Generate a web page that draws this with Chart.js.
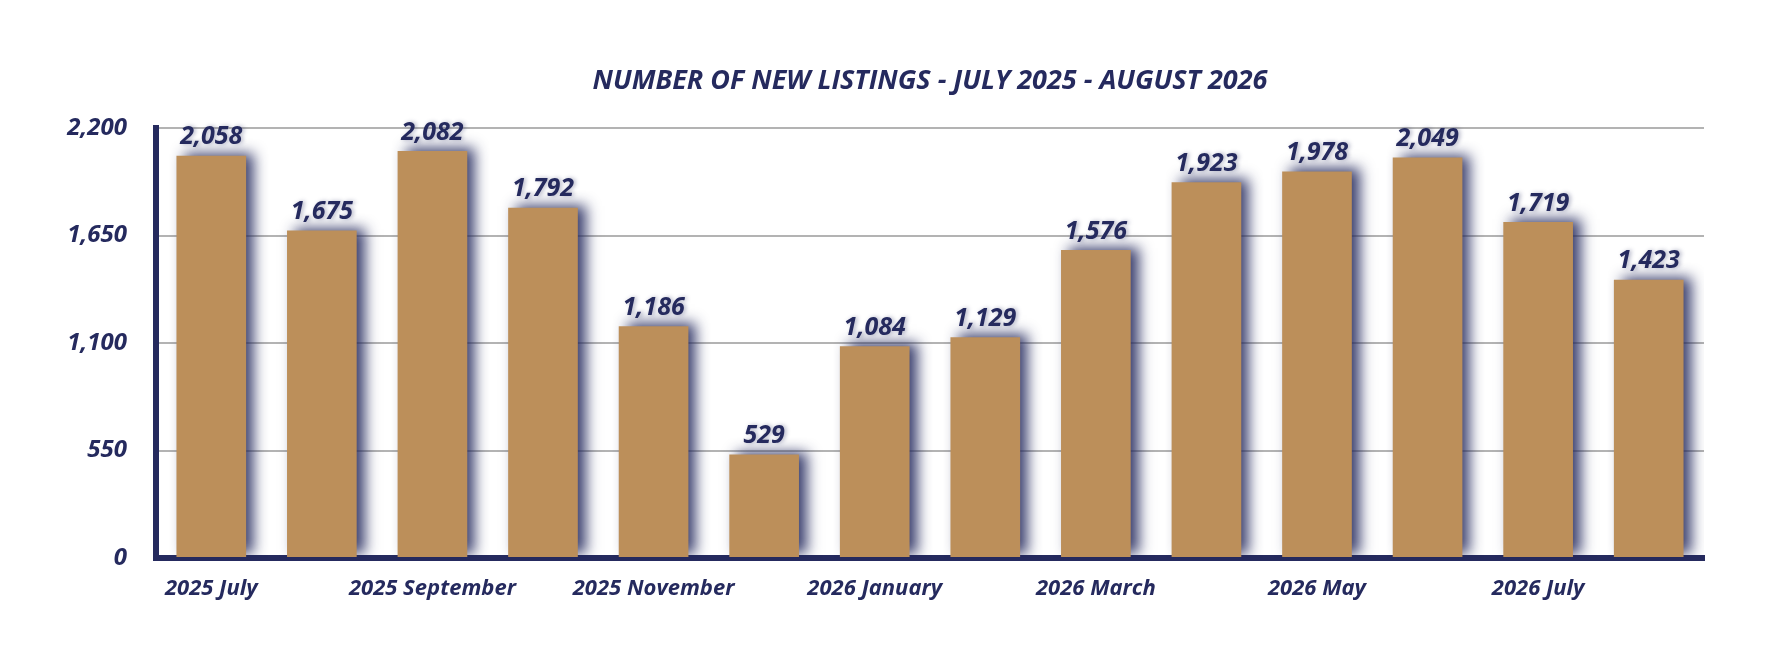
<!DOCTYPE html>
<html>
<head>
<meta charset="utf-8">
<script src="https://cdn.jsdelivr.net/npm/chart.js@4"></script>
<style>
  html, body { margin: 0; padding: 0; background: #fff; }
  #wrap { width: 1772px; height: 656px; }
</style>
</head>
<body>
<div id="wrap"><canvas id="listings-canvas"></canvas></div>
<script>
var months = ['2025 July', '2025 August', '2025 September', '2025 October', '2025 November', '2025 December',
  '2026 January', '2026 February', '2026 March', '2026 April', '2026 May', '2026 June', '2026 July', '2026 August']
var newListings = [2058, 1675, 2082, 1792, 1186, 529, 1084, 1129, 1576, 1923, 1978, 2049, 1719, 1423]
var yTicks = [0, 550, 1100, 1650, 2200]
var chartTitle = 'NUMBER OF NEW LISTINGS - JULY 2025 - AUGUST 2026'

var navy = '#252a5e'
var fontFamily = "'Open Sans', 'DejaVu Sans', sans-serif"

// bar shadow + value labels + title over the plot area
var decorPlugin = {
  id: 'decor',
  beforeDatasetsDraw: function (chart) {
    var ctx = chart.ctx
    ctx.save()
    ctx.shadowColor = 'rgba(37, 42, 94, 0.9)'
    ctx.shadowBlur = 13
    ctx.shadowOffsetX = 8
    ctx.shadowOffsetY = -3
  },
  afterDatasetsDraw: function (chart) {
    var ctx = chart.ctx
    ctx.restore()
    ctx.save()
    ctx.font = 'italic bold 25px ' + fontFamily
    ctx.fillStyle = navy
    ctx.textAlign = 'center'
    ctx.textBaseline = 'bottom'
    ctx.shadowColor = 'rgba(37, 42, 94, 0.35)'
    ctx.shadowBlur = 4
    ctx.shadowOffsetX = 2
    chart.getDatasetMeta(0).data.forEach(function (bar, i) {
      ctx.fillText(newListings[i].toLocaleString('en-US'), bar.x, bar.y - 6)
    })
    ctx.restore()
  },
  afterDraw: function (chart) {
    var ctx = chart.ctx
    var area = chart.chartArea
    ctx.save()
    ctx.font = 'italic bold 27px ' + fontFamily
    ctx.fillStyle = navy
    ctx.textAlign = 'center'
    ctx.textBaseline = 'middle'
    ctx.fillText(chartTitle, (area.left + area.right) / 2, 81)
    ctx.restore()
  }
}

var listingsCanvas = document.getElementById('listings-canvas').getContext('2d')
var listingsChart = new Chart(listingsCanvas, {
  type: 'bar',
  data: {
    labels: months,
    datasets: [
      {
        label: 'New Listings',
        backgroundColor: '#bc8f5a',
        borderWidth: 0,
        data: newListings,
        categoryPercentage: 1,
        barPercentage: 0.63
      }
    ]
  },
  plugins: [decorPlugin],
  options: {
    responsive: true,
    maintainAspectRatio: false,
    animation: false,
    layout: {
      padding: { left: 0, right: 68, top: 128, bottom: 0 }
    },
    plugins: {
      legend: { display: false },
      title: { display: false },
      tooltip: { enabled: false }
    },
    scales: {
      x: {
        grid: { display: false, drawTicks: false },
        border: { display: true, color: navy, width: 6 },
        ticks: {
          color: navy,
          font: { family: fontFamily, size: 22, style: 'italic', weight: 'bold' },
          maxRotation: 0,
          autoSkip: false,
          padding: 18,
          callback: function (value, index) {
            return index % 2 === 0 ? months[index] : ''
          }
        },
        afterFit: function (scale) { scale.height = 656 - 558 }
      },
      y: {
        min: 0,
        max: yTicks[yTicks.length - 1],
        afterBuildTicks: function (scale) {
          scale.ticks = yTicks.map(function (v) { return { value: v } })
        },
        grid: { color: '#b3b3b3', lineWidth: 2, drawTicks: false },
        border: { display: true, color: navy, width: 6 },
        ticks: {
          color: navy,
          font: { family: fontFamily, size: 24, style: 'italic', weight: 'bold' },
          padding: 29,
          callback: function (value) { return value.toLocaleString('en-US') }
        },
        afterFit: function (scale) { scale.width = 156 }
      }
    }
  }
})
</script>
</body>
</html>
